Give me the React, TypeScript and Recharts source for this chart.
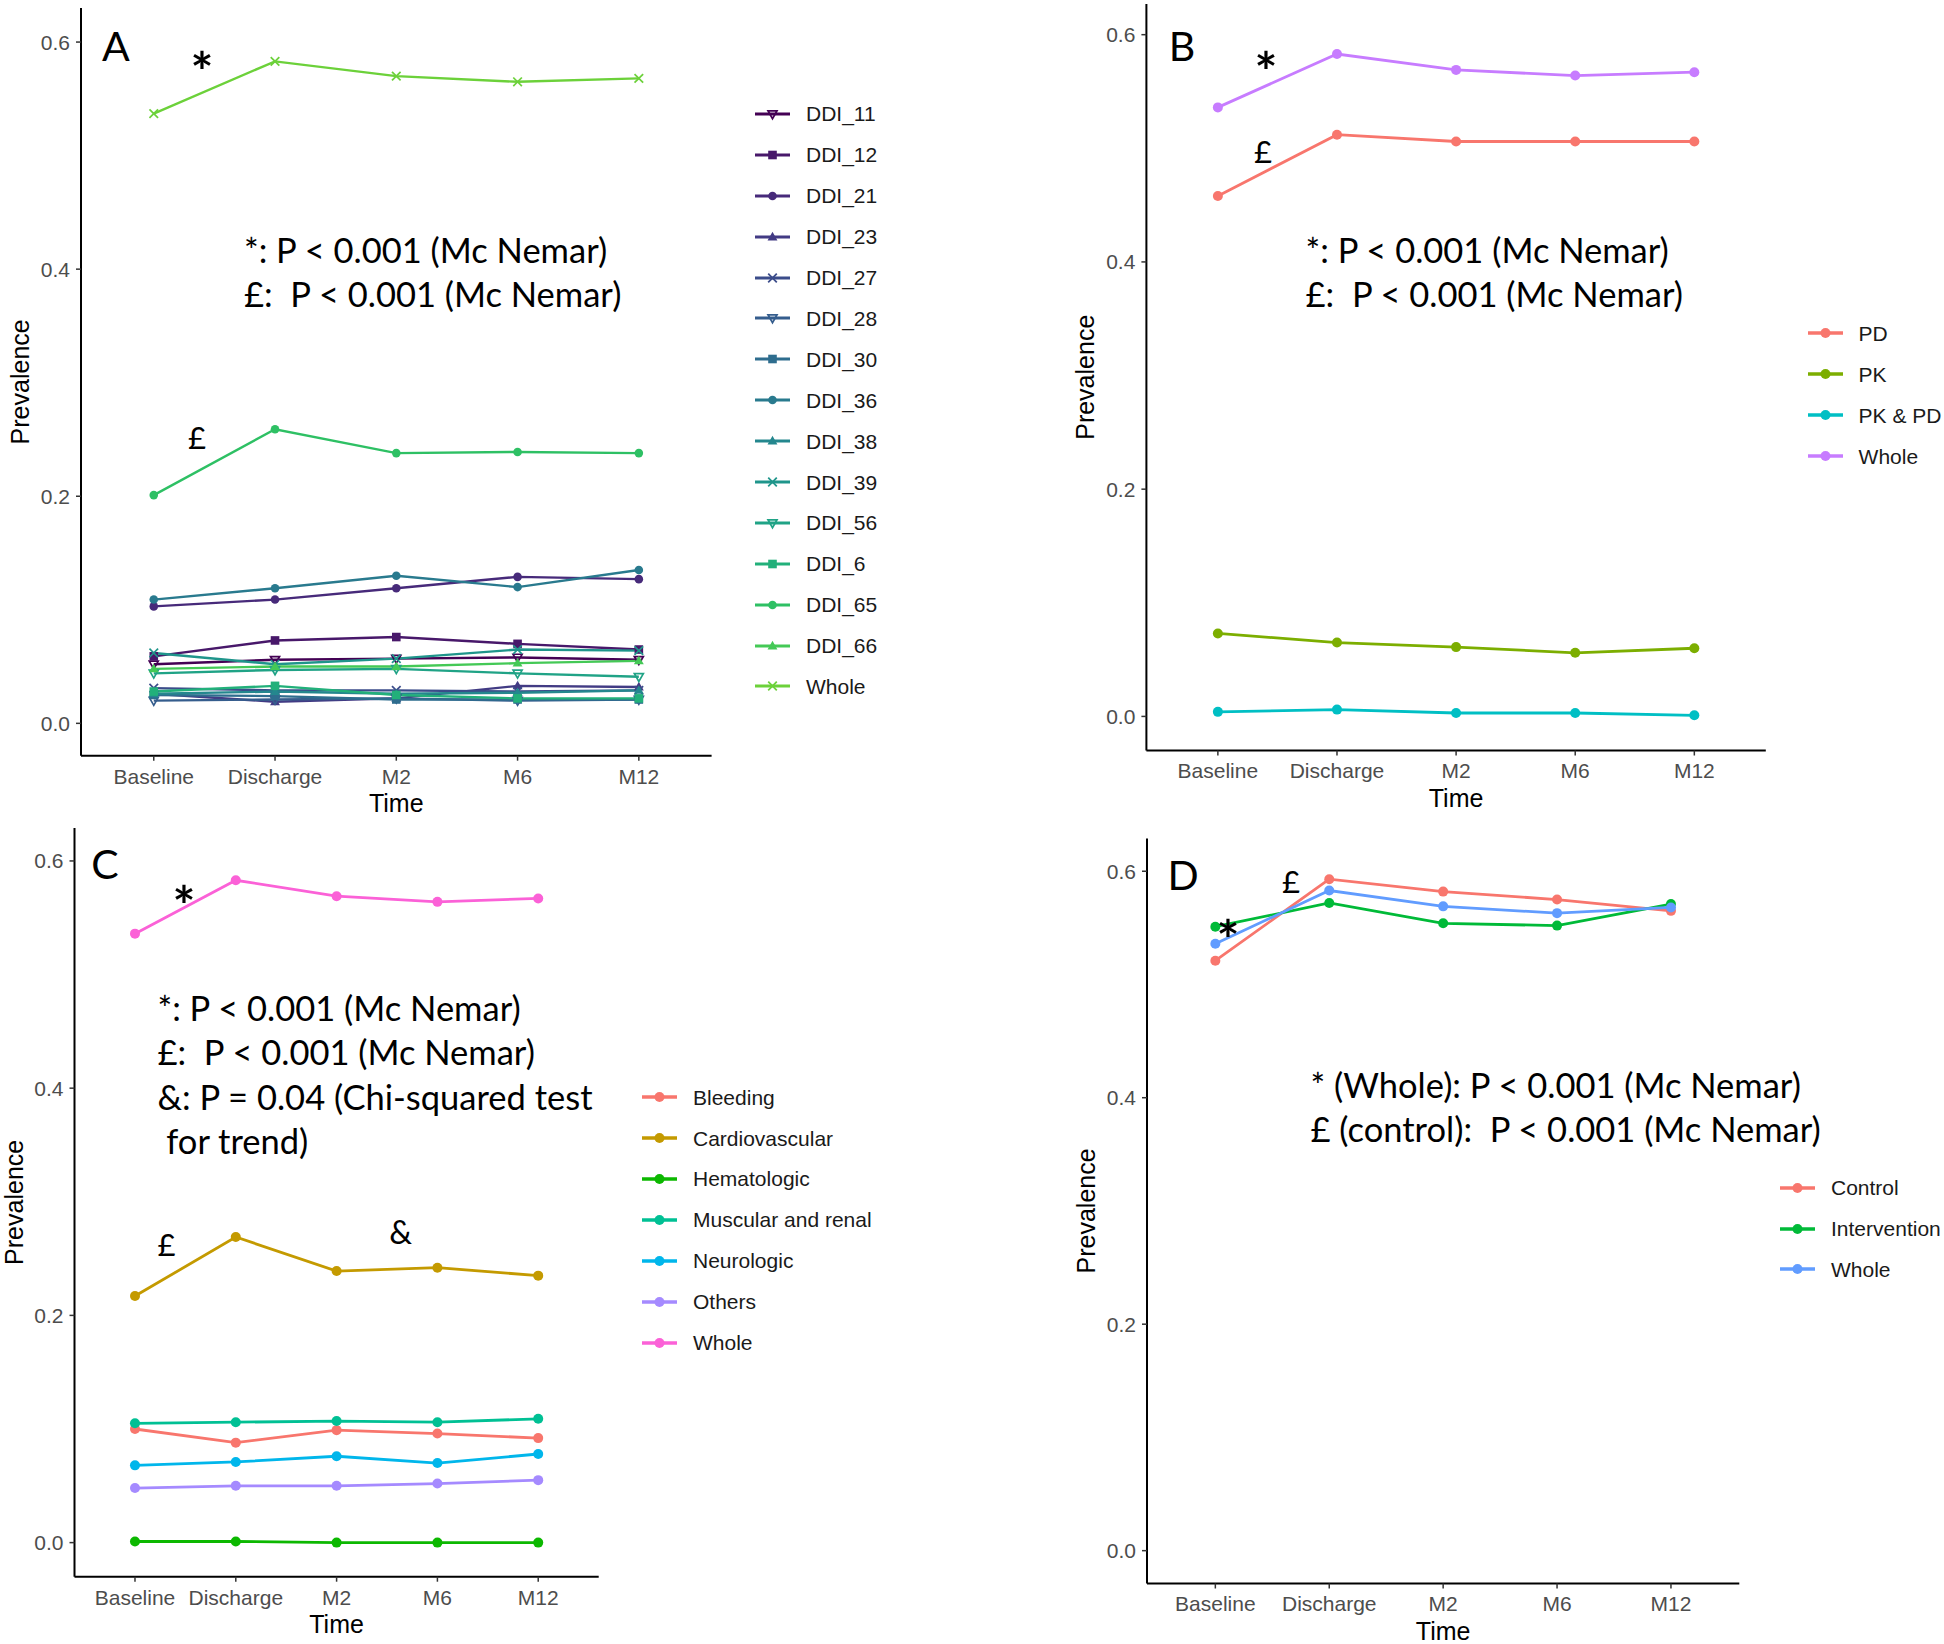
import React from 'react';
import { LineChart, Line, XAxis, YAxis, Legend } from 'recharts';

const times = ['Baseline', 'Discharge', 'M2', 'M6', 'M12'];
const yTicks = [0, 0.2, 0.4, 0.6];

// panel A: DDI types
const ddi11 = [0.052, 0.056, 0.057, 0.058, 0.056];
const ddi12 = [0.059, 0.073, 0.076, 0.070, 0.065];
const ddi21 = [0.103, 0.109, 0.119, 0.129, 0.127];
const ddi23 = [0.026, 0.019, 0.022, 0.033, 0.032];
const ddi27 = [0.031, 0.029, 0.029, 0.028, 0.029];
const ddi28 = [0.020, 0.021, 0.022, 0.020, 0.021];
const ddi30 = [0.025, 0.024, 0.021, 0.021, 0.021];
const ddi36 = [0.109, 0.119, 0.130, 0.120, 0.135];
const ddi38 = [0.026, 0.028, 0.026, 0.027, 0.029];
const ddi39 = [0.062, 0.052, 0.057, 0.065, 0.064];
const ddi56 = [0.044, 0.047, 0.048, 0.044, 0.041];
const ddi6 = [0.028, 0.033, 0.025, 0.022, 0.022];
const ddi65 = [0.201, 0.259, 0.238, 0.239, 0.238];
const ddi66 = [0.048, 0.050, 0.050, 0.053, 0.055];
const wholeA = [0.537, 0.583, 0.570, 0.565, 0.568];

// panel B: mechanism
const pd = [0.458, 0.512, 0.506, 0.506, 0.506];
const pk = [0.073, 0.065, 0.061, 0.056, 0.060];
const pkpd = [0.004, 0.006, 0.003, 0.003, 0.001];
const wholeB = [0.536, 0.583, 0.569, 0.564, 0.567];

// panel C: consequence
const bleeding = [0.100, 0.088, 0.099, 0.096, 0.092];
const cardio = [0.217, 0.269, 0.239, 0.242, 0.235];
const hemato = [0.001, 0.001, 0.000, 0.000, 0.000];
const muscular = [0.105, 0.106, 0.107, 0.106, 0.109];
const neuro = [0.068, 0.071, 0.076, 0.070, 0.078];
const others = [0.048, 0.050, 0.050, 0.052, 0.055];
const wholeC = [0.536, 0.583, 0.569, 0.564, 0.567];

// panel D: arm
const control = [0.521, 0.593, 0.582, 0.575, 0.565];
const intervention = [0.551, 0.572, 0.554, 0.552, 0.571];
const wholeD = [0.536, 0.583, 0.569, 0.563, 0.568];

const FONT = '"Liberation Sans", Arial, sans-serif';
const NOTE = 'Lato, "Open Sans", sans-serif';
const AX_W = 60;
const AX_H = 60;
const ITEM_H = 40.9;

type Shape = 'circle' | 'square' | 'triangle' | 'triangleOpen' | 'cross';
type Spec = { name: string; values: number[]; color: string; shape: Shape };

const viridis = ['#440154', '#48186A', '#472A7A', '#423B84', '#3B4C8A', '#355D8D', '#2E6D8E', '#297A8E', '#24878E', '#1F958B', '#20A386', '#22B07A', '#2EC064', '#44C956', '#6CD13A'];
const shapesA: Shape[] = ['triangleOpen', 'square', 'circle', 'triangle', 'cross'];

const namesA = ['DDI_11', 'DDI_12', 'DDI_21', 'DDI_23', 'DDI_27', 'DDI_28', 'DDI_30', 'DDI_36', 'DDI_38', 'DDI_39', 'DDI_56', 'DDI_6', 'DDI_65', 'DDI_66', 'Whole'];
const valuesA = [ddi11, ddi12, ddi21, ddi23, ddi27, ddi28, ddi30, ddi36, ddi38, ddi39, ddi56, ddi6, ddi65, ddi66, wholeA];
const seriesA: Spec[] = namesA.map((n, i) => ({ name: n, values: valuesA[i], color: viridis[i], shape: shapesA[i % 5] }));

const seriesB: Spec[] = [
  { name: 'PD', values: pd, color: '#F8766D', shape: 'circle' },
  { name: 'PK', values: pk, color: '#7CAE00', shape: 'circle' },
  { name: 'PK & PD', values: pkpd, color: '#00BFC4', shape: 'circle' },
  { name: 'Whole', values: wholeB, color: '#C77CFF', shape: 'circle' },
];

const seriesC: Spec[] = [
  { name: 'Bleeding', values: bleeding, color: '#F8766D', shape: 'circle' },
  { name: 'Cardiovascular', values: cardio, color: '#C49A00', shape: 'circle' },
  { name: 'Hematologic', values: hemato, color: '#0CB800', shape: 'circle' },
  { name: 'Muscular and renal', values: muscular, color: '#00C094', shape: 'circle' },
  { name: 'Neurologic', values: neuro, color: '#00B6EB', shape: 'circle' },
  { name: 'Others', values: others, color: '#A58AFF', shape: 'circle' },
  { name: 'Whole', values: wholeC, color: '#FB61D7', shape: 'circle' },
];

const seriesD: Spec[] = [
  { name: 'Control', values: control, color: '#F8766D', shape: 'circle' },
  { name: 'Intervention', values: intervention, color: '#00BA38', shape: 'circle' },
  { name: 'Whole', values: wholeD, color: '#619CFF', shape: 'circle' },
];

function Marker({ shape, cx, cy, color, r }: { shape: Shape; cx?: number; cy?: number; color: string; r: number }) {
  if (cx == null || cy == null) return null;
  if (shape === 'circle') return <circle cx={cx} cy={cy} r={r} fill={color} />;
  if (shape === 'square') return <rect x={cx - r} y={cy - r} width={2 * r} height={2 * r} fill={color} />;
  if (shape === 'triangle') {
    const pts = `${cx},${cy - r * 1.2} ${cx - r * 1.15},${cy + r * 0.8} ${cx + r * 1.15},${cy + r * 0.8}`;
    return <polygon points={pts} fill={color} />;
  }
  if (shape === 'triangleOpen') {
    const pts = `${cx - r * 1.05},${cy - r * 0.75} ${cx + r * 1.05},${cy - r * 0.75} ${cx},${cy + r * 1.1}`;
    return <polygon points={pts} fill="none" stroke={color} strokeWidth={1.7} />;
  }
  return (
    <g stroke={color} strokeWidth={1.7}>
      <line x1={cx - r} y1={cy - r} x2={cx + r} y2={cy + r} />
      <line x1={cx - r} y1={cy + r} x2={cx + r} y2={cy - r} />
    </g>
  );
}

function LegendBox({ series, r, lw }: { series: Spec[]; r: number; lw: number }) {
  return (
    <div style={{ display: 'flex', flexDirection: 'column' }}>
      {series.map((s) => (
        <div key={s.name} style={{ display: 'flex', alignItems: 'center', height: ITEM_H }}>
          <svg width={35} height={20} style={{ flex: 'none' }}>
            <line x1={0} x2={35} y1={10} y2={10} stroke={s.color} strokeWidth={lw + 0.6} />
            <Marker shape={s.shape} cx={17.5} cy={10} color={s.color} r={r} />
          </svg>
          <span style={{ marginLeft: 16, fontFamily: FONT, fontSize: 21, color: '#1a1a1a', whiteSpace: 'nowrap', lineHeight: 1 }}>
            {s.name}
          </span>
        </div>
      ))}
    </div>
  );
}

interface PanelProps {
  box: { left: number; top: number; width: number; height: number };
  plot: { left: number; top: number; right: number; bottom: number };
  domain: [number, number];
  series: Spec[];
  legend: { x: number; y: number };
  r: number;
  lw: number;
}

function Panel({ box, plot, domain, series, legend, r, lw }: PanelProps) {
  const pl = plot.left - box.left;
  const pt = plot.top - box.top;
  const pr = plot.right - box.left;
  const pb = plot.bottom - box.top;
  const margin = { left: pl - AX_W, top: pt, right: box.width - pr, bottom: box.height - pb - AX_H };
  const pad = ((pr - pl) * 0.6) / 5.2;
  const rows = times.map((t, i) => {
    const row: Record<string, string | number> = { time: t };
    series.forEach((s) => {
      row[s.name] = s.values[i];
    });
    return row;
  });

  return (
    <div style={{ position: 'absolute', left: box.left, top: box.top }}>
      <LineChart width={box.width} height={box.height} data={rows} margin={margin}>
        <XAxis
          dataKey="time"
          height={AX_H}
          interval={0}
          padding={{ left: pad, right: pad }}
          axisLine={{ stroke: '#000', strokeWidth: 2 }}
          tickLine={{ stroke: '#333', strokeWidth: 1.5 }}
          tickSize={5}
          tickMargin={8}
          tick={{ fill: '#4d4d4d', fontSize: 21, fontFamily: FONT }}
          label={() => (
            <text x={(pl + pr) / 2} y={pb + 56} textAnchor="middle" fontSize={25} fontFamily={FONT} fill="#000">
              Time
            </text>
          )}
        />
        <YAxis
          width={AX_W}
          type="number"
          domain={domain}
          ticks={yTicks}
          allowDataOverflow
          tickFormatter={(v: number) => v.toFixed(1)}
          axisLine={{ stroke: '#000', strokeWidth: 2 }}
          tickLine={{ stroke: '#333', strokeWidth: 1.5 }}
          tickSize={5}
          tickMargin={6}
          tick={{ fill: '#4d4d4d', fontSize: 21, fontFamily: FONT }}
          label={() => (
            <text
              transform={`translate(${pl - 52},${(pt + pb) / 2}) rotate(-90)`}
              textAnchor="middle"
              fontSize={25}
              fontFamily={FONT}
              fill="#000"
            >
              Prevalence
            </text>
          )}
        />
        <Legend
          layout="vertical"
          align="center"
          verticalAlign="middle"
          wrapperStyle={{ left: legend.x - box.left, top: legend.y - box.top - ITEM_H / 2, width: 'auto' }}
          content={() => <LegendBox series={series} r={r} lw={lw} />}
        />
        {series.map((s) => (
          <Line
            key={s.name}
            dataKey={s.name}
            stroke={s.color}
            strokeWidth={lw}
            isAnimationActive={false}
            activeDot={false}
            legendType="none"
            dot={(p: any) => <Marker key={`${s.name}-${p.index}`} shape={s.shape} cx={p.cx} cy={p.cy} color={s.color} r={r} />}
          />
        ))}
      </LineChart>
    </div>
  );
}

function Txt({ x, y, size, children, anchor = 'start', weight = 400 }: { x: number; y: number; size: number; children: string; anchor?: 'start' | 'middle'; weight?: number }) {
  return (
    <div
      style={{
        position: 'absolute',
        left: x,
        top: y - size * 0.6,
        lineHeight: `${size * 1.2}px`,
        fontSize: size,
        fontFamily: NOTE,
        fontWeight: weight,
        color: '#000',
        whiteSpace: 'pre',
        transform: anchor === 'middle' ? 'translateX(-50%)' : undefined,
      }}
    >
      {children}
    </div>
  );
}

export default function App() {
  return (
    <div style={{ position: 'absolute', left: 0, top: 0, width: 1944, height: 1644, background: '#fff', overflow: 'hidden' }}>
      <Panel
        box={{ left: 0, top: 0, width: 972, height: 822 }}
        plot={{ left: 81, top: 8, right: 711.6, bottom: 755.7 }}
        domain={[-0.0285, 0.63]}
        series={seriesA}
        legend={{ x: 755, y: 114 }}
        r={4.3}
        lw={2.4}
      />
      <Panel
        box={{ left: 1000, top: 0, width: 944, height: 822 }}
        plot={{ left: 1146.4, top: 4, right: 1765.8, bottom: 750.5 }}
        domain={[-0.03, 0.627]}
        series={seriesB}
        legend={{ x: 1807.6, y: 333.5 }}
        r={5}
        lw={2.8}
      />
      <Panel
        box={{ left: 0, top: 822, width: 972, height: 822 }}
        plot={{ left: 74.5, top: 828, right: 598.7, bottom: 1576.7 }}
        domain={[-0.03, 0.629]}
        series={seriesC}
        legend={{ x: 642, y: 1097.2 }}
        r={5}
        lw={2.8}
      />
      <Panel
        box={{ left: 1000, top: 822, width: 944, height: 822 }}
        plot={{ left: 1147, top: 838.4, right: 1739.3, bottom: 1583.5 }}
        domain={[-0.029, 0.629]}
        series={seriesD}
        legend={{ x: 1780, y: 1187.7 }}
        r={5}
        lw={2.8}
      />

      {/* panel A notes */}
      <Txt x={116} y={46} size={41} anchor="middle">A</Txt>
      <Txt x={202} y={71} size={54} anchor="middle" weight={700}>*</Txt>
      <Txt x={197} y={438} size={31} anchor="middle">£</Txt>
      <Txt x={244} y={250} size={34.5}>*: P &lt; 0.001 (Mc Nemar)</Txt>
      <Txt x={244} y={294} size={34.5}>£:  P &lt; 0.001 (Mc Nemar)</Txt>

      {/* panel B notes */}
      <Txt x={1182} y={46} size={41} anchor="middle">B</Txt>
      <Txt x={1266} y={71} size={54} anchor="middle" weight={700}>*</Txt>
      <Txt x={1263} y={152} size={31} anchor="middle">£</Txt>
      <Txt x={1305.6} y={250} size={34.5}>*: P &lt; 0.001 (Mc Nemar)</Txt>
      <Txt x={1305.6} y={294} size={34.5}>£:  P &lt; 0.001 (Mc Nemar)</Txt>

      {/* panel C notes */}
      <Txt x={105} y={864} size={41} anchor="middle">C</Txt>
      <Txt x={184} y={905} size={54} anchor="middle" weight={700}>*</Txt>
      <Txt x={166.5} y={1244.6} size={31} anchor="middle">£</Txt>
      <Txt x={400.7} y={1232.5} size={32} anchor="middle">&amp;</Txt>
      <Txt x={157.5} y={1008} size={34.5}>*: P &lt; 0.001 (Mc Nemar)</Txt>
      <Txt x={157.5} y={1052} size={34.5}>£:  P &lt; 0.001 (Mc Nemar)</Txt>
      <Txt x={157.5} y={1097} size={34.5}>&amp;: P = 0.04 (Chi-squared test</Txt>
      <Txt x={157.5} y={1141} size={34.5}> for trend)</Txt>

      {/* panel D notes */}
      <Txt x={1183} y={875} size={41} anchor="middle">D</Txt>
      <Txt x={1228} y={939} size={54} anchor="middle" weight={700}>*</Txt>
      <Txt x={1291} y={882} size={31} anchor="middle">£</Txt>
      <Txt x={1310.5} y={1085} size={34.5}>* (Whole): P &lt; 0.001 (Mc Nemar)</Txt>
      <Txt x={1310.5} y={1128.5} size={34.5}>£ (control):  P &lt; 0.001 (Mc Nemar)</Txt>
    </div>
  );
}
